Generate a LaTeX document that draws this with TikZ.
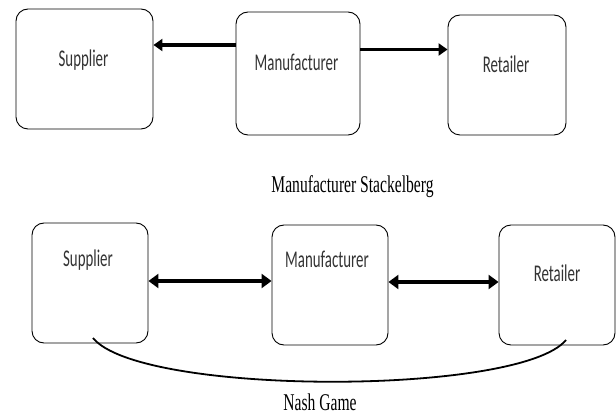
\documentclass[tikz,border=0pt]{standalone}
\usepackage{fontspec}
\usetikzlibrary{arrows.meta}
\newfontfamily\boxfont[FakeStretch=0.62]{Carlito}
\newfontfamily\capfont[FakeStretch=0.65]{Liberation Serif}
\begin{document}
\begin{tikzpicture}[x=1pt,y=-1pt,
  box/.style={draw, line width=0.9pt, rounded corners=12pt, inner sep=0pt},
  lbl/.style={font=\boxfont\fontsize{24}{28}\selectfont, text=black!80, inner sep=0pt, anchor=base},
  captext/.style={font=\capfont\fontsize{24}{28}\selectfont, inner sep=0pt, anchor=base},
  thick arrow/.style={line width=3.5pt, -{Triangle[length=9pt,width=12pt]}},
  dbl arrow/.style={line width=3.5pt, {Triangle[length=10pt,width=14pt]}-{Triangle[length=10pt,width=14pt]}},
  curve/.style={line width=1.8pt}]
\useasboundingbox (0,0) rectangle (616,414);
% top row
\node[box, minimum width=137pt, minimum height=120pt] (ts) at (84.5,69) {};
\node[box, minimum width=124pt, minimum height=123pt] (tm) at (298,73.5) {};
\node[box, minimum width=118pt, minimum height=120pt] (tr) at (507,75) {};
\node[lbl] (tst) at (83.5,67) {Supplier};
\node[lbl] (tmt) at (296.5,71) {Manufacturer};
\node[lbl] (trt) at (506,73) {Retailer};
\draw[thick arrow] (tm.west |- 0,45) -- (ts.east |- 0,45);
\draw[thick arrow] (tm.east |- 0,49.5) -- (tr.west |- 0,49.5);
\node[captext] (stack) at (352.5,193) {Manufacturer Stackelberg};
% bottom row
\node[box, minimum width=116pt, minimum height=120pt] (bs) at (90,283) {};
\node[box, minimum width=116pt, minimum height=120pt] (bm) at (330,285) {};
\node[box, minimum width=116pt, minimum height=120pt] (br) at (557,285) {};
\node[lbl] (bst) at (88,267) {Supplier};
\node[lbl] (bmt) at (327,268) {Manufacturer};
\node[lbl] (brt) at (557,282) {Retailer};
\draw[dbl arrow] (bs.east |- 0,281) -- (bm.west |- 0,281);
\draw[dbl arrow] (bm.east |- 0,282) -- (br.west |- 0,282);
\coordinate (cl) at (93,338);
\coordinate (cr) at (566,340);
\draw[curve] (cl) .. controls (140,396) and (520,396) .. (cr);
\node[captext] (nash) at (320,410) {Nash Game};
\end{tikzpicture}
\end{document}
